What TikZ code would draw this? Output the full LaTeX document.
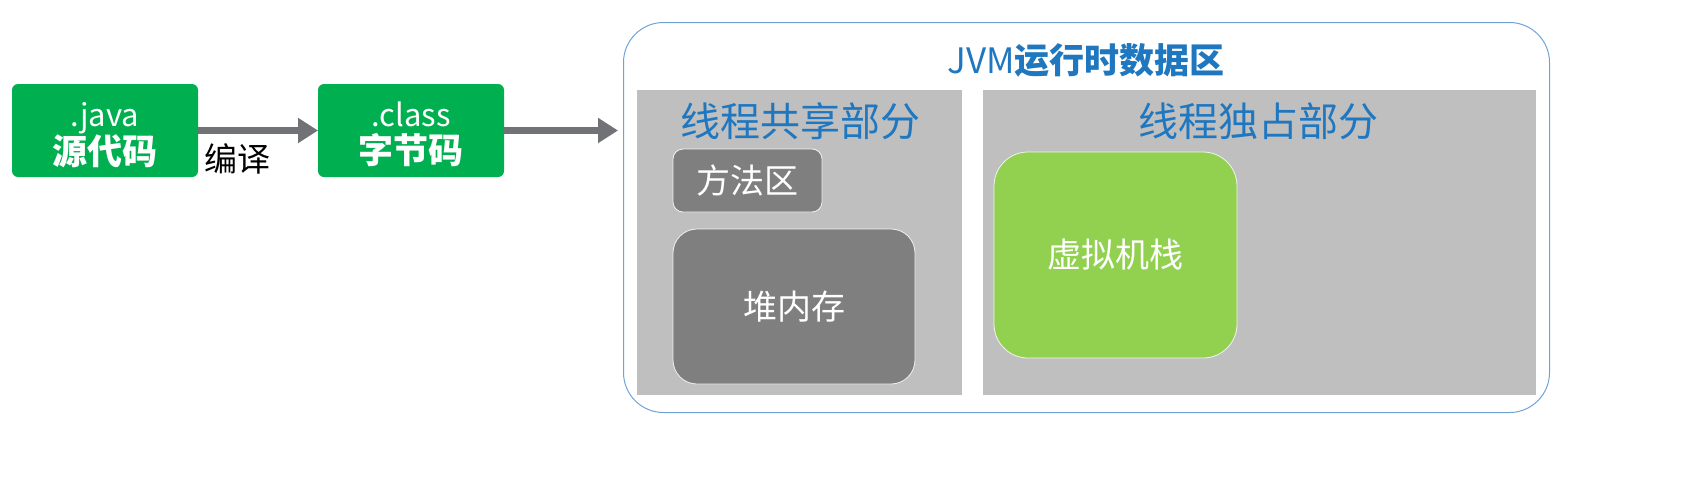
\documentclass[tikz,border=0pt]{standalone}
\usepackage{fontspec}
\setmainfont{Noto Sans CJK SC}
\newfontfamily\cjk{Noto Sans CJK SC}
\usetikzlibrary{arrows.meta}
\definecolor{grn}{HTML}{00B050}
\definecolor{lgrn}{HTML}{92D050}
\definecolor{arrgray}{HTML}{707276}
\definecolor{panel}{HTML}{BFBFBF}
\definecolor{dgray}{HTML}{7F7F7F}
\definecolor{ttl}{HTML}{1F77BF}
\definecolor{outline}{HTML}{6FA3D8}
\tikzset{
  greenbox/.style={fill=grn, rounded corners=6pt, minimum width=186pt, minimum height=93pt, inner sep=0pt, text=white, align=center, font=\fontsize{35}{37}\selectfont},
  bigarrow/.style={draw=arrgray, line width=7pt, -{Triangle[length=20pt,width=24pt]}},
  panelbox/.style={fill=panel, inner sep=0pt, anchor=north west},
  innerbox/.style={draw=white!90!gray, line width=0.8pt, text=white, inner sep=0pt, font=\fontsize{34}{36}\selectfont},
  paneltitle/.style={text=ttl, font=\fontsize{40}{44}\selectfont}
}
\begin{document}
\begin{tikzpicture}[x=1pt,y=-1pt]
\useasboundingbox (0,0) rectangle (1693,477);
% left boxes
\node[greenbox] (src) at (105,130.5) {\rule{0pt}{33pt}{\fontsize{31}{37}\selectfont .java}\\\bfseries 源代码};
\node[greenbox] (cls) at (411,130.5) {\rule{0pt}{33pt}{\fontsize{31}{37}\selectfont .class}\\\bfseries 字节码};
% outer region
\node[draw=outline, line width=1pt, rounded corners=40pt, minimum width=926pt, minimum height=390pt, inner sep=0pt, anchor=north west] (jvm) at (623,22) {};
\node[text=ttl, font=\fontsize{35}{38}\selectfont] (title) at (1086,60) {JVM\textbf{运行时数据区}};
% panels
\node[panelbox, minimum width=325pt, minimum height=305pt] (shared) at (637,90) {};
\node[panelbox, minimum width=553pt, minimum height=305pt] (priv) at (983,90) {};
\node[paneltitle] (sharedt) at (800,121) {线程共享部分};
\node[paneltitle] (privt) at (1258,121) {线程独占部分};
% inner boxes
\node[innerbox, fill=dgray, rounded corners=10pt, minimum width=149pt, minimum height=63pt] (method) at (747.5,180.5) {方法区};
\node[innerbox, fill=dgray, rounded corners=24pt, minimum width=242pt, minimum height=155pt] (heap) at (794,306.5) {堆内存};
\node[innerbox, fill=lgrn, rounded corners=34pt, minimum width=243pt, minimum height=206pt] (stack) at (1115.5,255) {虚拟机栈};
% arrows
\coordinate (a1s) at (198,130.5);
\coordinate (a1e) at (318,130.5);
\draw[bigarrow] (a1s) -- node[below=6pt, text=black, font=\fontsize{33}{36}\selectfont, pos=0.33] (compile) {编译} (a1e);
\coordinate (a2s) at (504,130.5);
\coordinate (jvmin) at ([xshift=-5pt]jvm.west |- a2s);
\draw[bigarrow] (a2s) -- (jvmin);
\end{tikzpicture}
\end{document}
